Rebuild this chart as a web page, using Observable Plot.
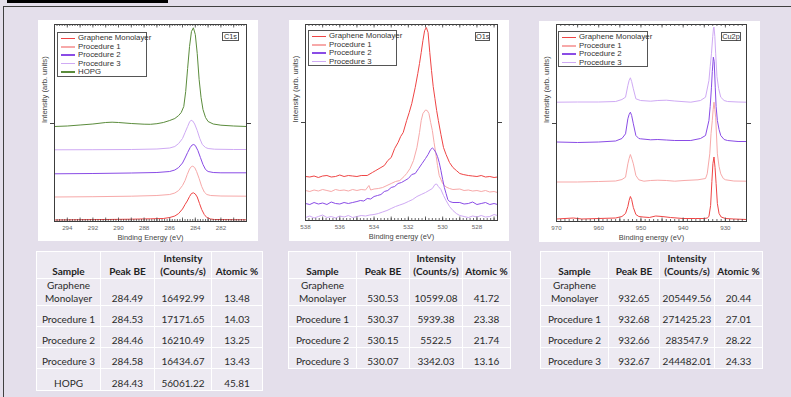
<!DOCTYPE html>
<html><head><meta charset="utf-8">
<script src="https://cdn.jsdelivr.net/npm/d3@7"></script>
<script src="https://cdn.jsdelivr.net/npm/@observablehq/plot@0.6"></script>
<style>
html,body{margin:0;padding:0}
body{background:#e4dfeb;width:791px;height:397px;overflow:hidden;position:relative;font-family:"Liberation Sans",Arial,sans-serif}
.abs{position:absolute}
.bar{left:7px;top:0;width:161px;height:3px;background:#000}
.frameLine{left:3px;top:6px;right:0;bottom:-2px;border-left:1.3px solid #404040;border-top:1.3px solid #404040}
.legend{position:absolute;background:#fff;border:1px solid #555;box-sizing:border-box}
.legend .row{position:absolute;left:0;height:8px;font-size:7.8px;line-height:8px;color:#333;white-space:nowrap}
.legend .sw{position:absolute;left:3px;top:3.4px;width:14px;height:1.5px}
.legend .tx{position:absolute;left:20px;top:0}
.tag{position:absolute;background:#fff;border:1px solid #555;box-sizing:border-box;font-size:7.4px;line-height:7.5px;color:#333;text-align:center}
table{position:absolute;border-collapse:collapse;font-family:Lato,"Open Sans",sans-serif;font-size:10px;color:#2a2a2a}
td,th{border:1px solid #fff;background:#edeaf2;text-align:center;vertical-align:bottom;padding:0 1px 1px 1px;line-height:12.4px;white-space:nowrap}
th{font-weight:bold;color:#222}
</style>
</head><body>
<div class="abs bar"></div>
<div class="abs frameLine"></div>
<div id="root"></div>
<script>
// ---------- shared ----------
const sampleNames = ["Graphene Monolayer","Procedure 1","Procedure 2","Procedure 3","HOPG"];
const sampleColors = ["#ef4545","#f7a9a9","#8a4ce6","#cfaaf4","#5b8c3c"];
const yAxisLabel = "Intensity (arb. units)";
const midTick = 98;

// ---------- C1s spectra [BE (eV), intensity (arb.)] ----------
const c1sGraphene = [[295,1.5],[293,1.8],[291,2],[289,2.3],[287.5,2.7],[286.5,3],[286,4],[285.6,5.5],[285.3,8],[285.0,12.5],[284.8,17],[284.63,20.5],[284.45,25],[284.3,28],[284.15,28.7],[284.0,27.5],[283.85,24.5],[283.67,18],[283.5,12],[283.3,7],[283.1,4],[282.8,2.5],[282.5,2],[281,1.8],[280,1.7]];
const c1sProc1 = [[295,24.5],[292,24.8],[289,25.3],[287,26],[286,27],[285.6,28.5],[285.3,31],[285.0,36],[284.8,41],[284.63,47],[284.45,52.5],[284.3,55],[284.2,55.3],[284.05,54],[283.9,50],[283.7,43],[283.5,35],[283.3,29.5],[283.1,27],[282.8,26],[282,25.5],[280,25.3]];
const c1sProc2 = [[295,47.7],[292,48],[289,48.5],[287,49],[286,50],[285.6,51.5],[285.3,54],[285.0,58.5],[284.8,63.5],[284.6,69],[284.4,74],[284.25,76.5],[284.12,77],[284.0,76],[283.8,71],[283.6,64],[283.4,57],[283.2,52],[283.0,50],[282.6,49],[282,48.7],[280,48.7]];
const c1sProc3 = [[295,71.7],[292,71.8],[289,72],[287,72.5],[286,73.5],[285.6,75],[285.3,78],[285.0,83],[284.8,89],[284.6,95],[284.45,99.5],[284.33,101.3],[284.2,100.5],[284.05,97.5],[283.85,91],[283.65,83],[283.45,77],[283.2,74],[283.0,73],[282.5,72.3],[281,72],[280,72]];
const c1sHOPG = [[295,95],[294,95.5],[293,96.5],[292,97.5],[291,99],[290.5,99.3],[290,99],[289,98],[288,97.3],[287.5,97.2],[287,97.8],[286.5,99],[286,101],[285.6,103],[285.3,106],[285.1,109],[284.9,115],[284.75,130],[284.6,153],[284.45,175],[284.3,190],[284.15,193.7],[284.0,187],[283.85,168],[283.7,142],[283.55,124],[283.4,112],[283.2,104],[283.0,100],[282.6,97.5],[282,96.3],[281,95.5],[280,95]];

// ---------- O1s spectra ----------
const o1sGraphene = [[538,44],[537.75,43.5],[537.5,44.5],[537.25,43],[537,44.5],[536.75,45],[536.5,43.5],[536.25,44],[536,45.5],[535.75,44],[535.5,45],[535.25,44.5],[535,44],[534.75,45],[534.4,45],[534.1,48],[533.9,50],[533.6,53],[533.4,55],[533.2,60],[533.0,63],[532.8,72],[532.6,78],[532.45,84],[532.3,88],[532.1,100],[531.95,108],[531.8,117],[531.6,133],[531.45,147],[531.35,157],[531.25,168],[531.15,180],[531.05,190],[530.95,193],[530.85,188],[530.75,168],[530.65,150],[530.55,134],[530.45,122],[530.35,110],[530.25,100],[530.1,86],[529.95,73],[529.8,66],[529.6,58],[529.4,53],[529.2,50],[529.0,47],[528.8,46],[528.5,45],[528.25,44.5],[528,44],[527.75,45],[527.5,43.5],[527.25,44],[527,43],[526.8,43.5]];
const o1sProc1 = [[538,30],[537.75,29],[537.5,30.5],[537.25,29.5],[537,31],[536.75,30],[536.5,29],[536.25,31],[536,30],[535.75,30.5],[535.5,29.5],[535.25,31],[535,30],[534.75,31],[534.5,30.5],[534.3,35],[534.2,30.5],[534,31.5],[533.75,32],[533.5,33],[533.25,35],[533,37],[532.75,39],[532.5,40],[532.25,44],[532.1,47],[531.9,52],[531.7,60],[531.5,73],[531.35,88],[531.25,100],[531.15,107],[531.0,110.5],[530.9,110],[530.8,107],[530.7,98],[530.6,90],[530.5,78],[530.4,67],[530.3,55],[530.2,45],[530.0,37],[529.8,33.5],[529.6,32],[529.4,31],[529.0,31.5],[528.75,30],[528.5,30.5],[528.25,29.5],[528,30],[527.75,29],[527.5,30],[527.25,28.5],[527,29],[526.8,28]];
const o1sProc2 = [[538,17],[537.75,16],[537.5,18],[537.25,16.5],[537,17.5],[536.75,16],[536.5,18.5],[536.25,17],[536,16.5],[535.75,18],[535.5,17],[535.25,18],[535,19],[534.8,20],[534.6,19.5],[534.4,22],[534.2,21.5],[534,24],[533.8,25],[533.6,26],[533.4,29],[533.2,30],[533.0,33],[532.8,34],[532.6,37],[532.4,38],[532.2,40],[532.0,42],[531.8,46],[531.6,47],[531.4,52],[531.2,57],[531.0,62],[530.85,66],[530.7,71],[530.6,72.5],[530.5,71],[530.4,68],[530.3,64],[530.2,58],[530.1,50],[530.0,41],[529.9,33],[529.8,27],[529.7,21],[529.6,19],[529.4,18],[529.0,18],[528.75,16.5],[528.5,17],[528.25,18.5],[528,16],[527.75,17],[527.5,18],[527.25,16],[527,17],[526.8,16]];
const o1sProc3 = [[538,3],[537.75,4.5],[537.5,2.5],[537.25,4],[537,5.5],[536.75,3],[536.5,4],[536.25,2.5],[536,4.5],[535.75,3.5],[535.5,5],[535.25,3],[535,4],[534.75,5],[534.5,4.5],[534.25,5.5],[534,6],[533.75,7],[533.5,8.5],[533.25,10],[533,12],[532.75,14],[532.5,15.5],[532.25,17],[532,19],[531.75,21],[531.5,24],[531.25,26],[531,28],[530.8,30],[530.6,32],[530.45,36],[530.35,36.5],[530.25,34],[530.1,31],[529.95,25],[529.8,20],[529.6,14],[529.4,10],[529.2,7],[529,5],[528.75,4],[528.5,3],[528.25,4.5],[528,3.5],[527.75,5],[527.5,3.5],[527.25,4],[527,6],[526.8,5]];

// ---------- Cu2p spectra ----------
const cuGraphene = [[970,2.5],[966,3.5],[964,2.5],[960,3],[956,3.5],[954.5,5],[953.65,8],[953.1,15],[952.8,21],[952.5,25],[952.2,22],[951.8,14],[951.2,7],[950.5,5],[949.5,4.5],[948,4],[946.5,5.5],[945,5],[943,4],[940,3],[937,3],[935,3],[934.3,3.5],[933.9,5],[933.5,16],[933.2,40],[932.95,58],[932.7,64.5],[932.45,54],[932.2,38],[931.9,18],[931.5,8],[931,4.5],[930,3],[928,2.5],[925,2]];
const cuProc1 = [[970,39.5],[965,39.5],[960,40],[956,40.5],[954.5,42],[953.65,44.3],[953.1,57.7],[952.8,63],[952.5,67],[952.1,62],[951.8,57.7],[951.2,46],[950.5,41.7],[949.3,40.3],[947.7,41],[946,41.3],[944,41],[942,40.3],[939.8,41],[936.5,41.7],[934.7,43],[934.3,47.7],[933.7,67.7],[933.4,88],[933.1,101],[932.9,112],[932.7,119.3],[932.5,112],[932.3,104.3],[931.9,67.7],[931.5,55],[931.1,47.7],[930.5,43],[929.95,41.7],[928,40.5],[925,40.3]];
const cuProc2 = [[970,79.5],[965,79],[960,79.5],[956,80.5],[954.5,83],[953.65,87.7],[953.1,102.7],[952.8,107],[952.5,109.3],[952.2,106],[951.8,97.7],[951.2,86],[950.5,83],[950.1,82.7],[947.7,81.7],[946,82],[944,81.5],[942,81],[938.2,81],[935.9,83],[934.7,86],[933.9,101],[933.6,115],[933.3,134.3],[933.1,150],[932.85,164.3],[932.65,160],[932.4,134.3],[932.2,115],[931.9,101],[931.5,92],[931.1,86],[930.3,82],[929.5,81],[927,80],[925,80]];
const cuProc3 = [[970,119.3],[965,119.5],[960,119.5],[956,120],[954.5,122],[953.65,124.3],[953.1,136],[952.8,141],[952.5,143.7],[952.2,140],[951.8,132.7],[951.2,122.7],[950.1,121],[947.7,120.3],[946,121],[944,121.3],[942,120.5],[938.2,119.3],[935.9,121],[934.7,124.3],[933.9,141],[933.6,155],[933.3,167.7],[933.0,185],[932.8,194],[932.7,194.5],[932.5,185],[932.3,167.7],[932.0,145],[931.6,133],[931.1,124.3],[930.3,121],[929.5,120],[927,119.5],[925,119.3]];

// ---------- axis ticks ----------
const c1sTickLabels = [294,292,290,288,286,284,282];
const o1sTickLabels = [538,536,534,532,530,528];
const cuTickLabels = [970,960,950,940,930];

// ---------- tables ----------
const tableHeaders = ["Sample","Peak BE","Intensity<br>(Counts/s)","Atomic %"];
const tableSamples = ["Graphene<br>Monolayer","Procedure 1","Procedure 2","Procedure 3","HOPG"];
const c1sPeakBE = ["284.49","284.53","284.46","284.58","284.43"];
const c1sIntensity = ["16492.99","17171.65","16210.49","16434.67","56061.22"];
const c1sAtomic = ["13.48","14.03","13.25","13.43","45.81"];
const o1sPeakBE = ["530.53","530.37","530.15","530.07"];
const o1sIntensity = ["10599.08","5939.38","5522.5","3342.03"];
const o1sAtomic = ["41.72","23.38","21.74","13.16"];
const cuPeakBE = ["932.65","932.68","932.66","932.67"];
const cuIntensity = ["205449.56","271425.23","283547.9","244482.01"];
const cuAtomic = ["20.44","27.01","28.22","24.33"];

const root = document.getElementById("root");

function spectrum(cfg){
  const rows = [];
  cfg.series.forEach((s,i)=> s.forEach(([be,v])=> rows.push({be, v, name: sampleNames[i]})));
  const names = sampleNames.slice(0, cfg.series.length);
  const H = cfg.height - cfg.mt - cfg.mb;
  const xMin = Math.min(...cfg.xDomain), xMax = Math.max(...cfg.xDomain);
  const major = d3.range(Math.ceil(xMin/cfg.majorStep)*cfg.majorStep, xMax+1e-9, cfg.majorStep);
  const minor = d3.range(Math.ceil(xMin/cfg.minorStep)*cfg.minorStep, xMax+1e-9, cfg.minorStep);
  const tickStroke = "#444";
  const svg = Plot.plot({
    width: cfg.width, height: cfg.height,
    marginLeft: cfg.ml, marginRight: cfg.mr, marginTop: cfg.mt, marginBottom: cfg.mb,
    style: {background:"#fff", fontFamily:"'Liberation Sans', Arial, sans-serif", fontSize:"6.2px", color:"#555", overflow:"visible"},
    x: {domain: cfg.xDomain},
    y: {domain: cfg.yDomain},
    color: {domain: sampleNames, range: sampleColors},
    marks: [
      Plot.line(rows, {x:"be", y:"v", z:"name", stroke:"name", strokeWidth:1, curve:"linear"}),
      Plot.frame({stroke:"#3c3c3c", strokeWidth:1}),
      Plot.tickX(minor, {x:d=>d, insetTop:H-2, stroke:tickStroke, strokeWidth:0.8}),
      Plot.tickX(minor, {x:d=>d, insetBottom:H-2, stroke:tickStroke, strokeWidth:0.8}),
      Plot.tickX(major, {x:d=>d, insetTop:H-3.5, stroke:tickStroke, strokeWidth:0.8}),
      Plot.tickX(major, {x:d=>d, insetBottom:H-3.5, stroke:tickStroke, strokeWidth:0.8}),
      Plot.axisX({anchor:"bottom", ticks: cfg.tickLabels, tickSize:0, tickPadding:4, tickFormat:d=>String(d), label:null, fill:"#666"}),
      Plot.axisY({anchor:"left", ticks:[midTick], tickSize:4, tickFormat:()=>"", label:null, stroke:"#444"}),
      Plot.axisY({anchor:"right", ticks:[midTick], tickSize:4, tickFormat:()=>"", label:null, stroke:"#444"}),
      Plot.text([cfg.xLabel], {frameAnchor:"bottom", dy:18, text:d=>d, fontSize:7.4, fill:"#444"}),
      Plot.text([yAxisLabel], {frameAnchor:"left", rotate:-90, dx:-10, text:d=>d, fontSize:7.6, fill:"#444"})
    ]
  });
  svg.style.position = "absolute";
  svg.style.left = cfg.left + "px";
  svg.style.top = cfg.top + "px";
  root.appendChild(svg);

  // legend
  const lg = document.createElement("div");
  lg.className = "legend";
  Object.assign(lg.style, {left: cfg.legend[0]+"px", top: cfg.legend[1]+"px", width: cfg.legend[2]+"px", height: cfg.legend[3]+"px"});
  names.forEach((n,i)=>{
    const r = document.createElement("div");
    r.className = "row";
    r.style.top = (1.3 + i*8.4) + "px";
    r.innerHTML = `<div class="sw" style="background:${sampleColors[i]}"></div><div class="tx">${n}</div>`;
    lg.appendChild(r);
  });
  root.appendChild(lg);
  const tg = document.createElement("div");
  tg.className = "tag";
  tg.textContent = cfg.tag;
  Object.assign(tg.style, {left: cfg.tagBox[0]+"px", top: cfg.tagBox[1]+"px", width: cfg.tagBox[2]+"px", height: cfg.tagBox[3]+"px"});
  root.appendChild(tg);
}

spectrum({left:38, top:20, width:220, height:221, ml:16, mr:12, mt:4, mb:20,
  xDomain:[295,280], yDomain:[0,197], majorStep:1, minorStep:0.2, tickLabels:c1sTickLabels,
  xLabel:"Binding Energy (eV)", series:[c1sGraphene,c1sProc1,c1sProc2,c1sProc3,c1sHOPG],
  legend:[57,32,90,45], tag:"C1s", tagBox:[222,32,17,9]});

spectrum({left:289, top:20, width:220, height:221, ml:16, mr:12, mt:4, mb:21,
  xDomain:[538,526.8], yDomain:[0,196], majorStep:1, minorStep:0.2, tickLabels:o1sTickLabels,
  xLabel:"Binding energy (eV)", series:[o1sGraphene,o1sProc1,o1sProc2,o1sProc3],
  legend:[308,30,89,36], tag:"O1s", tagBox:[475,32,15,9]});

spectrum({left:539, top:21, width:221, height:221, ml:17, mr:14, mt:3, mb:21,
  xDomain:[970,925], yDomain:[0,197], majorStep:5, minorStep:1, tickLabels:cuTickLabels,
  xLabel:"Binding energy (eV)", series:[cuGraphene,cuProc1,cuProc2,cuProc3],
  legend:[558,31,90,36], tag:"Cu2p", tagBox:[721,32,20,9]});

function makeTable(left, top, widths, be, inten, atom){
  const t = document.createElement("table");
  t.style.left = left + "px"; t.style.top = top + "px";
  let html = "<colgroup>" + widths.map(w=>`<col style="width:${w}px">`).join("") + "</colgroup>";
  html += `<tr style="height:27px">` + tableHeaders.map(h=>`<th>${h}</th>`).join("") + "</tr>";
  be.forEach((v,i)=>{
    const h = i===0 ? 27 : (i===4 ? 22 : 21);
    html += `<tr style="height:${h}px"><td>${tableSamples[i]}</td><td>${v}</td><td>${inten[i]}</td><td>${atom[i]}</td></tr>`;
  });
  t.innerHTML = html;
  t.style.tableLayout = "fixed";
  t.style.width = widths.reduce((a,b)=>a+b,0) + "px";
  root.appendChild(t);
}
makeTable(36, 251, [64,54,57,51], c1sPeakBE, c1sIntensity, c1sAtomic);
makeTable(288, 251, [68,53,53,48], o1sPeakBE, o1sIntensity, o1sAtomic);
makeTable(540, 251, [68,51,55,48], cuPeakBE, cuIntensity, cuAtomic);
</script>
</body></html>
